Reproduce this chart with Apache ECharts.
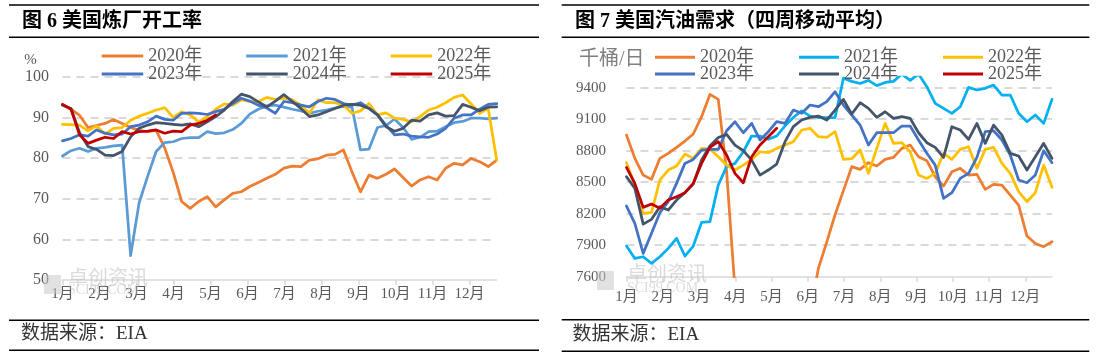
<!DOCTYPE html>
<html>
<head>
<meta charset="utf-8">
<script src="https://cdn.jsdelivr.net/npm/echarts@6/dist/echarts.min.js"></script>
<style>
html,body{margin:0;padding:0;background:#fff;}
#chart{width:1098px;height:362px;}
</style>
</head>
<body>
<div id="chart"></div>
<script>
// ---------- data ----------
const years = ['2020年', '2021年', '2022年', '2023年', '2024年', '2025年'];
const monthLabels = ['1月', '2月', '3月', '4月', '5月', '6月', '7月', '8月', '9月', '10月', '11月', '12月'];

// Fig 6: US refinery utilisation (%), weekly
const refinery2020 = [93.2, 92.0, 90.5, 87.5, 88.0, 88.5, 89.5, 88.5, 87.5, 86.8, 86.5, 86.8, 82.5, 76.5, 69.3, 67.6, 69.3, 70.5, 68.0, 69.7, 71.3, 71.7, 73.0, 74.0, 75.0, 76.0, 77.5, 78.0, 77.9, 79.5, 79.8, 80.7, 80.9, 82.0, 76.6, 71.7, 75.8, 75.0, 76.0, 77.3, 75.2, 73.1, 74.6, 75.4, 74.6, 77.5, 78.7, 78.3, 79.9, 79.1, 77.9, 79.5];
const refinery2021 = [80.5, 81.8, 82.4, 81.6, 82.4, 82.6, 83.0, 83.2, 56.0, 69.0, 75.5, 81.6, 83.8, 84.0, 84.8, 85.0, 85.0, 86.5, 86.0, 86.2, 87.0, 88.5, 90.8, 92.0, 92.8, 93.0, 92.5, 92.0, 91.6, 91.0, 91.5, 91.8, 92.3, 92.7, 92.5, 82.0, 82.2, 87.5, 88.0, 89.6, 87.5, 84.6, 85.1, 86.5, 86.6, 87.7, 88.7, 89.0, 89.8, 89.8, 89.6, 89.8];
const refinery2022 = [88.3, 88.2, 88.1, 86.7, 87.9, 85.9, 87.3, 87.5, 89.3, 90.3, 91.0, 91.8, 92.4, 90.0, 91.4, 90.6, 88.9, 90.2, 92.0, 93.3, 93.0, 94.3, 93.9, 93.9, 94.9, 94.4, 94.7, 94.3, 93.0, 91.0, 94.3, 93.6, 93.6, 93.0, 91.0, 91.6, 93.4, 90.6, 91.1, 89.8, 89.5, 88.9, 90.2, 91.8, 92.5, 93.6, 94.9, 95.5, 93.3, 91.0, 92.2, 79.5];
const refinery2023 = [84.2, 84.8, 85.7, 85.4, 86.9, 86.1, 85.7, 85.9, 87.7, 88.1, 88.9, 90.3, 89.5, 89.3, 91.0, 91.1, 91.0, 90.7, 91.4, 92.0, 93.4, 94.7, 94.0, 93.0, 92.3, 91.0, 93.9, 93.6, 93.0, 92.6, 93.9, 94.7, 94.4, 93.4, 93.0, 93.6, 92.2, 90.6, 88.1, 85.7, 85.9, 85.4, 85.2, 85.1, 85.9, 87.3, 89.8, 90.6, 90.6, 92.0, 93.2, 93.4];
const refinery2024 = [93.0, 92.2, 86.2, 82.8, 82.1, 80.7, 80.6, 81.6, 85.2, 87.3, 88.1, 88.7, 88.5, 88.3, 88.1, 88.4, 87.7, 88.9, 90.2, 91.8, 93.9, 95.7, 95.1, 93.8, 92.6, 94.0, 95.6, 93.9, 92.2, 90.2, 90.6, 91.4, 92.2, 93.0, 93.2, 93.0, 92.2, 90.6, 87.7, 86.6, 87.3, 89.3, 89.1, 90.6, 91.1, 90.3, 90.4, 93.2, 92.5, 91.6, 92.5, 92.6];
const refinery2025 = [93.2, 92.0, 85.7, 83.6, 84.4, 85.1, 84.8, 86.5, 85.9, 86.5, 86.6, 86.9, 86.1, 86.6, 86.5, 88.1, 88.5, 89.3, 90.6];

// Fig 7: US gasoline demand, 4-week average (kb/d), weekly
const gasoline2020 = [8950, 8727, 8568, 8527, 8727, 8775, 8832, 8892, 8959, 9124, 9336, 9289, 8600, 7480, 6950, 6350, 5950, 5850, 6050, 6400, 6700, 7000, 7250, 7680, 7930, 8190, 8420, 8648, 8622, 8686, 8654, 8717, 8736, 8822, 8854, 8743, 8705, 8552, 8463, 8600, 8632, 8568, 8575, 8432, 8479, 8473, 8378, 8282, 7987, 7917, 7886, 7933];
const gasoline2021 = [7892, 7774, 7790, 7727, 7790, 7870, 7965, 7797, 7892, 8117, 8124, 8473, 8648, 8679, 8790, 8940, 8940, 8910, 8940, 9037, 9116, 9180, 9130, 9116, 9116, 9116, 9490, 9460, 9440, 9470, 9420, 9450, 9460, 9530, 9470, 9530, 9410, 9251, 9203, 9156, 9219, 9403, 9378, 9394, 9425, 9330, 9330, 9156, 9076, 9140, 9060, 9289];
const gasoline2022 = [8686, 8473, 8203, 8213, 8521, 8616, 8654, 8768, 8727, 8822, 8816, 8743, 8663, 8616, 8663, 8717, 8790, 8781, 8822, 8854, 8886, 8997, 9013, 8933, 8927, 8981, 8717, 8724, 8806, 8584, 8822, 9060, 8870, 8876, 8790, 8568, 8536, 8584, 8775, 8717, 8813, 8838, 8632, 8813, 8832, 8679, 8584, 8410, 8314, 8400, 8663, 8451];
const gasoline2023 = [8273, 8108, 7822, 8013, 8210, 8314, 8489, 8679, 8717, 8806, 8813, 8813, 8990, 9076, 8971, 9060, 8902, 8981, 9076, 9060, 9187, 9156, 9235, 9219, 9267, 9362, 9235, 9140, 9044, 8854, 8971, 8971, 8971, 9035, 9035, 8902, 8775, 8663, 8346, 8400, 8536, 8584, 8736, 8981, 8990, 8902, 8759, 8521, 8495, 8568, 8800, 8686];
const gasoline2024 = [8552, 8441, 8101, 8146, 8267, 8235, 8330, 8400, 8482, 8711, 8844, 8926, 8955, 8854, 8800, 8711, 8568, 8616, 8673, 8886, 9029, 9092, 9117, 9130, 9092, 9187, 9289, 9149, 9257, 9203, 9117, 9171, 9108, 9124, 9108, 8971, 8876, 8832, 8736, 9029, 8997, 8908, 9060, 8870, 9044, 8949, 8775, 8749, 8616, 8743, 8870, 8727];
const gasoline2025 = [8641, 8489, 8260, 8292, 8251, 8330, 8362, 8400, 8489, 8679, 8832, 8886, 8759, 8584, 8495, 8743, 8854, 8933, 9013];

const refineryTicks = { min: 50, max: 100, step: 10 };
const gasolineTicks = { min: 7600, max: 9500, step: 300 };

// ---------- styles ----------
const refineryColors = ['#ED7D31', '#5B9BD5', '#FFC000', '#4472C4', '#44546A', '#C00000'];
const gasolineColors = ['#ED7D31', '#00B0F0', '#FFC000', '#4472C4', '#44546A', '#C00000'];
const SERIF = "'Liberation Serif','Noto Sans CJK SC',serif";
const CJK = "'Noto Sans CJK SC',sans-serif";
const LABEL = '#595959';
const GRID_LINE = '#d9d9d9';

const refinerySeriesData = [refinery2020, refinery2021, refinery2022, refinery2023, refinery2024, refinery2025];
const gasolineSeriesData = [gasoline2020, gasoline2021, gasoline2022, gasoline2023, gasoline2024, gasoline2025];

const WEEKS_PER_MONTH = 365 / 7 / 12;
const monthPos = monthLabels.map((m, i) => i * WEEKS_PER_MONTH);

function xAxisCfg(gridIndex, margin) {
  return {
    type: 'value', gridIndex, min: 0, max: 51,
    axisLine: { show: true, lineStyle: { color: GRID_LINE, width: 1.5 } },
    axisTick: { show: true, customValues: monthPos, length: 5, inside: false, lineStyle: { color: GRID_LINE, width: 1.5 } },
    axisLabel: {
      show: true, customValues: monthPos, margin,
      formatter: v => monthLabels[Math.round(v / WEEKS_PER_MONTH)] || '',
      fontSize: 15, color: LABEL, fontFamily: SERIF
    },
    splitLine: { show: false }
  };
}
function yAxisCfg(gridIndex, t, fontSize, margin) {
  const exact = (t.max - t.min) % t.step === 0;
  return {
    type: 'value', gridIndex, min: t.min, max: t.max, interval: t.step,
    axisLine: { show: false }, axisTick: { show: false },
    axisLabel: { fontSize, color: LABEL, margin, fontFamily: SERIF, showMaxLabel: exact, formatter: v => String(v) },
    splitLine: { show: true, showMinLine: false, showMaxLine: exact, lineStyle: { type: [8, 6], color: GRID_LINE, width: 2 } }
  };
}
function seriesFor(dataList, colors, axisIndex) {
  return dataList.map((arr, k) => ({
    name: years[k], type: 'line', xAxisIndex: axisIndex, yAxisIndex: axisIndex,
    data: arr.map((v, i) => [i, v]),
    showSymbol: false, symbol: 'none', smooth: false, clip: true,
    lineStyle: { color: colors[k], width: 2.75, cap: 'round', join: 'round' },
    itemStyle: { color: colors[k] },
    emphasis: { disabled: true }
  }));
}
function legendRow(idx, colors, left, top, gap, itemW) {
  return {
    orient: 'horizontal', left, top, padding: 0, itemGap: gap, itemWidth: itemW, itemHeight: 3,
    icon: 'rect', selectedMode: false,
    data: idx.map(i => ({ name: years[i], itemStyle: { color: colors[i] } })),
    textStyle: { fontSize: 18, color: LABEL, fontFamily: SERIF, lineHeight: 18 }
  };
}
function hline(x1, x2, y) {
  return { type: 'line', silent: true, shape: { x1, y1: y, x2, y2: y }, style: { stroke: '#000', lineWidth: 1.5 } };
}
function txt(x, y, text, o) {
  return { type: 'text', silent: true, x, y, z: o.z || 10,
    style: Object.assign({ text, align: 'left', verticalAlign: 'middle' }, o.style) };
}

const chart = echarts.init(document.getElementById('chart'), null, { renderer: 'canvas' });
chart.setOption({
  animation: false,
  backgroundColor: '#fff',
  grid: [
    { left: 62.5, top: 76.7, width: 434.2, height: 203.3, containLabel: false },
    { left: 626.5, top: 77.2, width: 425.5, height: 199.5, containLabel: false }
  ],
  xAxis: [xAxisCfg(0, 7), xAxisCfg(1, 13)],
  yAxis: [yAxisCfg(0, refineryTicks, 16, 13.5), yAxisCfg(1, gasolineTicks, 15, 20.5)],
  legend: [
    legendRow([0, 1, 2], refineryColors, 101.7, 47, 44, 41.5),
    legendRow([3, 4, 5], refineryColors, 101.7, 65, 44, 41.5),
    legendRow([0, 1, 2], gasolineColors, 655, 48.3, 45, 40),
    legendRow([3, 4, 5], gasolineColors, 655, 65, 45, 40)
  ],
  series: seriesFor(refinerySeriesData, refineryColors, 0).concat(seriesFor(gasolineSeriesData, gasolineColors, 1)),
  graphic: [
    hline(9, 539, 5), hline(9, 539, 37.3), hline(9, 539, 320.3), hline(9, 539, 350.3),
    hline(561.7, 1089.3, 5), hline(561.7, 1089.3, 37.3), hline(561.7, 1089.3, 319.7), hline(561.7, 1089.3, 351.3),
    txt(22, 21.7, '图 6 美国炼厂开工率', { style: { fontSize: 20, fontWeight: 'bold', fontFamily: SERIF, fill: '#000' } }),
    txt(575, 21.7, '图 7 美国汽油需求（四周移动平均）', { style: { fontSize: 20, fontWeight: 'bold', fontFamily: SERIF, fill: '#000' } }),
    txt(21, 334, '数据来源：EIA', { style: { fontSize: 19, fontFamily: SERIF, fill: '#333' } }),
    txt(572.5, 335.3, '数据来源：EIA', { style: { fontSize: 19, fontFamily: SERIF, fill: '#333' } }),
    txt(30.5, 60, '%', { style: { fontSize: 15, fontFamily: SERIF, fill: LABEL, align: 'center' } }),
    txt(579, 60, '千桶/日', { style: { fontSize: 20, fontFamily: SERIF, fill: '#7f7f7f' } }),
    // watermarks
    { type: 'rect', silent: true, z: 1, shape: { x: 44, y: 275, width: 17, height: 19 }, style: { fill: 'rgba(200,200,200,0.55)' } },
    txt(68, 277, '卓创资讯', { z: 1, style: { fontSize: 20, fontFamily: CJK, fill: 'rgba(190,190,190,0.55)' } }),
    txt(68, 290.5, 'SCI99.COM', { z: 1, style: { fontSize: 14, fontFamily: SERIF, fill: 'rgba(190,190,190,0.55)' } }),
    { type: 'rect', silent: true, z: 1, shape: { x: 597, y: 271, width: 17, height: 19 }, style: { fill: 'rgba(200,200,200,0.55)' } },
    txt(627, 273.7, '卓创资讯', { z: 1, style: { fontSize: 20, fontFamily: CJK, fill: 'rgba(190,190,190,0.55)' } }),
    txt(627, 288, 'SCI99.COM', { z: 1, style: { fontSize: 14, fontFamily: SERIF, fill: 'rgba(190,190,190,0.55)' } })
  ]
});
</script>
</body>
</html>
